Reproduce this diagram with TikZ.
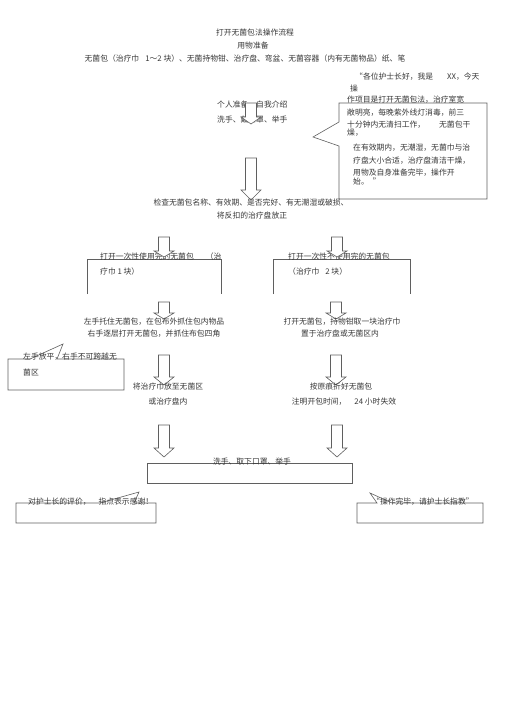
\documentclass[tikz,border=0pt]{standalone}
\usepackage{fontspec}
\newfontfamily\cjk{Noto Sans CJK SC}
\usepackage{tikz}
\usetikzlibrary{positioning}
\definecolor{inkgray}{RGB}{55,55,55}
\definecolor{linegray}{RGB}{95,95,95}
% hollow down arrow: x, top, tip, head length
\newcommand{\hollowarrow}[4]{%
  \draw[hollow] (#1-5.5,#2) -- (#1+5.5,#2) -- (#1+5.5,#3-#4) -- (#1+10,#3-#4)
    -- (#1,#3) -- (#1-10,#3-#4) -- (#1-5.5,#3-#4) -- cycle;}

\begin{document}
\begin{tikzpicture}[
  x=1pt, y=-1pt,
  txt/.style={inner sep=0pt, text=inkgray, font=\cjk\fontsize{7.8}{9}\selectfont},
  ltxt/.style={txt, anchor=west},
  frame/.style={draw=linegray, line width=0.6pt},
  hollow/.style={draw=linegray, line width=0.6pt, fill=white}
]
\useasboundingbox (0,0) rectangle (505,714);

% header
\node[txt] (title) at (255,33) {打开无菌包法操作流程};
\node[txt] (prep) at (253,46) {用物准备};
\node[txt] (items) at (245,59) {无菌包（治疗巾\hspace{6pt}1～2 块）、无菌持物钳、治疗盘、弯盆、无菌容器（内有无菌物品）纸、笔};

% speech callout, right
\draw[frame] (339,103) -- (487,103) -- (487,199) -- (339,199) -- (339,146)
  -- (313,137) -- (339,122) -- cycle;
\node[ltxt] (say1) at (355,77) {“各位护士长好，我是\hspace{14pt}XX，今天};
\node[ltxt] (say2) at (350,89) {操};
\node[ltxt] (say3) at (347,100) {作项目是打开无菌包法，治疗室宽};
\node[ltxt] (say4) at (347,113) {敞明亮，每晚紫外线灯消毒，前三};
\node[ltxt] (say5) at (347,125) {十分钟内无清扫工作，\hspace{14pt}无菌包干};
\node[ltxt] (say6) at (347,133) {燥，};
\node[ltxt] (say7) at (353,148) {在有效期内，无潮湿，无菌巾与治};
\node[ltxt] (say8) at (353,161) {疗盘大小合适，治疗盘清洁干燥，};
\node[ltxt] (say9) at (353,173) {用物及自身准备完毕，操作开};
\node[ltxt] (say10) at (353,182) {始。\hspace{4pt}”};

% personal preparation
\node[ltxt] (self1) at (217,105) {个人准备，自我介绍};
\node[ltxt] (self2) at (217,120) {洗手、戴口罩、举手};
\hollowarrow{251}{103}{124}{7}

\hollowarrow{251}{158}{200}{10}
\node[txt] (check1) at (251,203) {检查无菌包名称、有效期、是否完好、有无潮湿或破损、};
\node[txt] (check2) at (252,216) {将反扣的治疗盘放正};

% two branches
\draw[frame] (87,294) -- (87,259) -- (221,259) -- (221,294);
\draw[frame] (273,294) -- (273,259) -- (410,259) -- (410,294);
\node[ltxt] (once1) at (100,257) {打开一次性使用完的无菌包\hspace{12pt}（治};
\node[ltxt] (once2) at (100,272) {疗巾 1 块）};
\node[ltxt] (part1) at (288,257) {打开一次性不使用完的无菌包};
\node[ltxt] (part2) at (288,272) {（治疗巾\hspace{6pt}2 块）};
\hollowarrow{164}{237}{257}{6}
\hollowarrow{337}{237}{257}{6}

\hollowarrow{164}{302}{319}{6}
\hollowarrow{336}{302}{319}{6}
\node[txt] (hold1) at (154,322) {左手托住无菌包，在包布外抓住包内物品};
\node[txt] (hold2) at (154,334) {右手逐层打开无菌包，并抓住布包四角};
\node[txt] (take1) at (342,322) {打开无菌包，持物钳取一块治疗巾};
\node[txt] (take2) at (340,334) {置于治疗盘或无菌区内};

% note callout, left
\draw[frame] (8,359) -- (30,359) -- (63,344) -- (57,359) -- (124,359)
  -- (124,390) -- (8,390) -- cycle;
\node[ltxt] (flat1) at (23,357) {左手放平，右手不可跨越无};
\node[ltxt] (flat2) at (23,373) {菌区};

\hollowarrow{164}{355}{385}{8}
\hollowarrow{336}{355}{385}{8}
\node[txt] (put1) at (168,387) {将治疗巾放至无菌区};
\node[txt] (put2) at (168,402) {或治疗盘内};
\node[txt] (fold1) at (341,387) {按原痕折好无菌包};
\node[txt] (fold2) at (344,402) {注明开包时间，\hspace{8pt}24 小时失效};

\hollowarrow{164}{425}{457}{9}
\hollowarrow{337}{425}{457}{9}
\draw[frame] (147,463) rectangle (352,483);
\node[txt] (wash) at (252,462) {洗手、取下口罩、举手};

% closing callouts
\draw[frame] (16,503) -- (100,503) -- (139,492) -- (134,503) -- (156,503)
  -- (156,523) -- (16,523) -- cycle;
\node[ltxt] (thank) at (28,502) {对护士长的评价，\hspace{8pt}指点表示感谢！};
\draw[frame] (357,503) -- (377,503) -- (370,493) -- (392,503) -- (483,503)
  -- (483,523) -- (357,523) -- cycle;
\node[ltxt] (done) at (372,502) {“操作完毕，请护士长指教”};
\end{tikzpicture}
\end{document}
